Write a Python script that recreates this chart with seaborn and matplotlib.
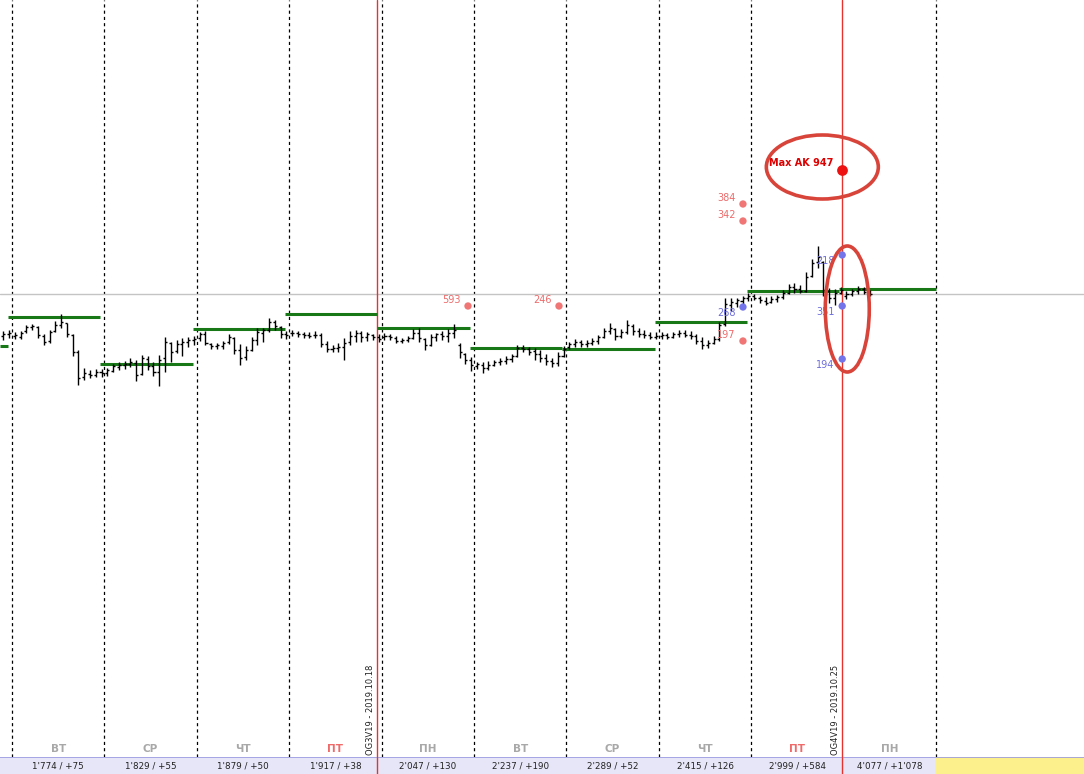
import numpy as np
import pandas as pd
import seaborn as sns
import matplotlib.pyplot as plt
from matplotlib.patches import Ellipse, Rectangle
from matplotlib.transforms import blended_transform_factory

# hourly-ish bars, 16 per session; first bar sits late in session 0, last ones early in session 10
opens = [164, 166,
         164, 163, 169, 173, 173, 164, 159, 169, 175, 177, 165, 148, 123, 126, 125, 128,
         127, 129, 133, 135, 136, 137, 126, 141, 134, 128, 142, 157, 149, 156, 158, 160,
         162, 166, 156, 154, 154, 158, 162, 150, 143, 150, 160, 167, 170, 178, 173, 166,
         167, 167, 166, 165, 165, 165, 156, 151, 152, 153, 158, 164, 167, 163, 165, 163,
         163, 164, 162, 159, 160, 162, 167, 161, 155, 163, 166, 164, 167, 155, 146, 140,
         134, 135, 132, 135, 138, 139, 141, 144, 152, 151, 149, 146, 142, 139, 137, 144,
         153, 156, 158, 156, 157, 159, 163, 169, 171, 164, 168, 174, 169, 166, 165, 163,
         164, 165, 163, 166, 167, 165, 164, 159, 155, 157, 161, 176, 195, 197, 199, 202,
         204, 202, 199, 198, 201, 203, 207, 213, 211, 209, 224, 238, 238, 209, 202, 207,
         204, 206, 209, 211, 208]
highs = [169, 170,
         168, 169, 175, 176, 174, 166, 170, 179, 186, 177, 166, 150, 132, 130, 131, 131,
         132, 136, 138, 139, 142, 140, 145, 144, 138, 145, 163, 158, 160, 162, 163, 164,
         168, 169, 157, 157, 159, 166, 163, 156, 154, 163, 172, 172, 182, 180, 174, 169,
         170, 169, 168, 168, 169, 167, 159, 155, 157, 162, 169, 170, 169, 168, 166, 166,
         167, 166, 164, 162, 164, 171, 172, 162, 166, 167, 169, 171, 176, 157, 147, 143,
         138, 138, 139, 140, 142, 144, 146, 155, 155, 153, 152, 150, 146, 142, 148, 154,
         158, 161, 160, 160, 162, 165, 172, 177, 172, 171, 180, 176, 172, 170, 168, 168,
         168, 167, 168, 170, 170, 169, 166, 163, 160, 164, 178, 202, 202, 202, 204, 207,
         206, 204, 203, 204, 205, 210, 216, 217, 215, 228, 241, 254, 239, 212, 211, 213,
         209, 211, 214, 213, 210]
lows = [160, 162,
        161, 161, 167, 170, 162, 155, 157, 168, 172, 163, 144, 115, 120, 122, 123, 123,
        124, 128, 130, 131, 133, 119, 125, 130, 124, 114, 128, 138, 147, 144, 153, 155,
        159, 155, 151, 151, 151, 156, 146, 135, 140, 149, 155, 158, 168, 170, 162, 161,
        164, 163, 162, 162, 162, 153, 148, 148, 148, 140, 155, 158, 158, 159, 160, 158,
        160, 160, 157, 157, 158, 161, 158, 150, 154, 159, 160, 158, 162, 142, 136, 129,
        131, 127, 130, 134, 135, 136, 138, 143, 148, 145, 140, 138, 135, 133, 134, 143,
        151, 153, 153, 153, 155, 156, 162, 166, 160, 162, 166, 165, 163, 162, 161, 161,
        161, 161, 162, 163, 163, 161, 156, 151, 152, 156, 159, 174, 189, 193, 196, 199,
        200, 197, 195, 197, 198, 201, 206, 207, 207, 208, 223, 232, 204, 197, 195, 206,
        201, 204, 206, 206, 204]
closes = [166, 167,
          165, 167, 173, 174, 165, 158, 168, 175, 178, 166, 148, 122, 127, 125, 128, 127,
          130, 134, 135, 136, 138, 125, 142, 134, 128, 140, 158, 148, 156, 158, 160, 161,
          166, 157, 154, 155, 157, 163, 150, 142, 150, 160, 168, 170, 178, 174, 166, 165,
          167, 166, 165, 164, 165, 156, 151, 152, 153, 157, 164, 167, 163, 166, 163, 161,
          164, 163, 159, 160, 162, 167, 162, 155, 163, 166, 164, 167, 170, 148, 140, 135,
          136, 132, 135, 138, 139, 141, 144, 152, 151, 148, 146, 142, 139, 137, 144, 151,
          156, 158, 156, 157, 159, 163, 169, 172, 164, 168, 175, 169, 166, 165, 163, 164,
          165, 163, 166, 167, 165, 164, 159, 155, 157, 161, 175, 196, 198, 200, 202, 204,
          202, 200, 197, 201, 203, 207, 213, 211, 209, 223, 237, 243, 210, 202, 207, 210,
          206, 209, 211, 208, 206]

# daily levels (session 0 .. 10)
levels = [154, 183, 136, 171, 186, 172, 152, 151, 178, 209, 211]

day_names = ['ВТ', 'СР', 'ЧТ', 'ПТ', 'ПН', 'ВТ', 'СР', 'ЧТ', 'ПТ', 'ПН']
day_stats = ["1'774 / +75", "1'829 / +55", "1'879 / +50", "1'917 / +38", "2'047 / +130",
             "2'237 / +190", "2'289 / +52", "2'415 / +126", "2'999 / +584", "4'077 / +1'078"]

expiries = [4.95, 9.985]
expiry_lbl = ['OG3V19 - 2019.10.18', 'OG4V19 - 2019.10.25']

mark_x = [5.935, 6.920, 8.911, 8.911, 8.911, 8.911, 9.985, 9.985, 9.985]
mark_y = [194, 194, 296, 279, 159, 193, 245, 194, 141]
mark_lbl = ['593', '246', '384', '342', '197', '268', '218', '351', '194']
mark_kind = ['ask', 'ask', 'ask', 'ask', 'ask', 'bid', 'bid', 'bid', 'bid']

max_x, max_y, max_lbl = 9.985, 330, 'Max AK 947'
ref_level = 206
circles = [(9.77, 333, 1.212, 64), (10.04, 191, 0.476, 126)]

sns.set_theme(style='white')
plt.rcParams['font.family'] = ['DejaVu Sans']

fig = plt.figure(figsize=(10.84, 7.74), dpi=100)
ax = fig.add_axes([0, 17 / 774, 1, 757 / 774])
sx = fig.add_axes([0, 0, 1, 17 / 774], sharex=ax)
xmin, xmax = 0.870, 12.602
ax.set_xlim(xmin, xmax)
ax.set_ylim(-257, 500)
for a in (ax, sx):
    a.set_axis_off()

# separators (the one under the second expiry is hidden by the red line)
for d in range(1, 12):
    if d == 10:
        continue
    ax.axvline(d, color='black', lw=0.9, ls=(0, (2.5, 2.5)), zorder=1)
ax.axhline(ref_level, color='#c4c4c4', lw=1, zorder=1)
for e in expiries:
    ax.axvline(e, color='#e8322e', lw=1, zorder=2)
    sx.axvline(e, color='#e8322e', lw=1, zorder=3)

# OHLC bars
n = len(closes)
bx = 0.875 + 0.03125 + 0.0625 * np.arange(n)
tick = 0.022
ax.vlines(bx, lows, highs, color='black', lw=1, zorder=4)
ax.hlines(opens, bx - tick, bx, color='black', lw=1, zorder=4)
ax.hlines(closes, bx, bx + tick, color='black', lw=1, zorder=4)

# daily levels
for d, lv in enumerate(levels):
    x0 = max(d - 0.045, xmin)
    x1 = d + 1 - 0.045 if d < 10 else 11.0
    ax.hlines(lv, x0, x1, color='#187818', lw=2.2, zorder=3)

# options marks
df = pd.DataFrame({'x': mark_x, 'y': mark_y, 'kind': mark_kind})
sns.scatterplot(data=df, x='x', y='y', hue='kind', ax=ax, s=28, linewidth=0,
                palette={'ask': '#f07676', 'bid': '#7474ea'}, legend=False, zorder=6)
ax.set_axis_off()
for x, y, t, k in zip(mark_x, mark_y, mark_lbl, mark_kind):
    dy = 4 if k == 'ask' else -4
    col = '#ee6a6a' if k == 'ask' else '#6c6cdc'
    ax.annotate(t, (x, y), xytext=(-5.5, dy), textcoords='offset points',
                ha='right', va='center', fontsize=7, color=col, zorder=7)

ax.scatter([max_x], [max_y], s=60, color='#ee1111', zorder=7, linewidths=0)
ax.annotate(max_lbl, (max_x, max_y), xytext=(-6.5, 5), textcoords='offset points',
            ha='right', va='center', fontsize=7, fontweight='bold', color='#dd0000', zorder=7)
for cx, cy, w, h in circles:
    ax.add_patch(Ellipse((cx, cy), w, h, fill=False, ec='#d8443a', lw=2.6, zorder=8))

# day names and expiry captions
tr = blended_transform_factory(ax.transData, ax.transAxes)
for i, nm in enumerate(day_names):
    col = '#f06a6a' if nm == 'ПТ' else '#a8a8a8'
    ax.text(i + 1.5, 0.004, nm, transform=tr, ha='center', va='bottom',
            fontsize=7.5, fontweight='bold', color=col)
for e, t in zip(expiries, expiry_lbl):
    ax.text(e - 0.075, 0.003, t, transform=tr, ha='center', va='bottom',
            rotation=90, fontsize=6, color='#222222')

# bottom strip
sx.set_ylim(0, 1)
sx.add_patch(Rectangle((xmin, 0), 11.0 - xmin, 1, color='#e6e6f8', zorder=0))
sx.add_patch(Rectangle((11.0, 0), xmax - 11.0, 1, color='#fcf08c', zorder=0))
sx.axhline(1, color='#9a9ae0', lw=1.2, zorder=2)
for i, s in enumerate(day_stats):
    sx.text(i + 1.5, 0.45, s, ha='center', va='center', fontsize=6.3, color='#222222')

fig.savefig('out.png', dpi=100)
